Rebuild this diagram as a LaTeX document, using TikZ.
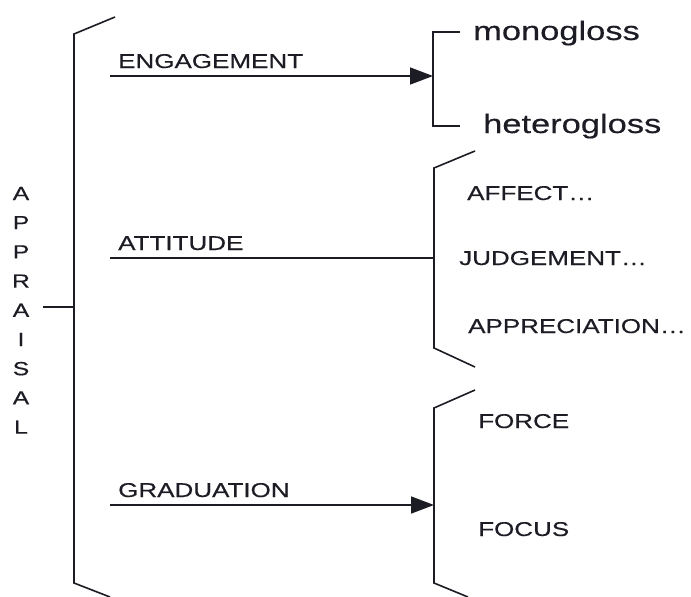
\documentclass[tikz,border=0pt]{standalone}
\usepackage{fontspec}
\setmainfont[FakeStretch=1.3,FakeBold=0.35]{Liberation Sans}
\usetikzlibrary{arrows.meta}
\definecolor{ink}{HTML}{1C1C24}
\begin{document}
\begin{tikzpicture}[x=1pt,y=-1pt,
  caps/.style={anchor=base west, inner sep=0pt, text=ink, font=\fontsize{20}{20}\selectfont},
  lower/.style={anchor=base west, inner sep=0pt, text=ink, font=\fontsize{26.5}{26.5}\selectfont},
  letter/.style={anchor=base, inner sep=0pt, text=ink, font=\fontsize{19}{19}\selectfont},
  brk/.style={draw=ink, line width=1.6pt, line join=miter},
  arr/.style={brk, -{Triangle[length=23pt,width=17pt]}}]
\useasboundingbox[fill=white] (0,0) rectangle (691,597);

% APPRAISAL column
\foreach \ch [count=\i from 0] in {A,P,P,R,A,I,S,A,L}
  \node[letter] (ap\i) at (21,{200+29.2*\i}) {\ch};

% left bracket
\coordinate (Lt) at (115,17);
\coordinate (Ltc) at (74,34);
\coordinate (Lbc) at (74,583);
\coordinate (Lb) at (110,597);
\coordinate (Lm) at (74,307);
\coordinate (tick) at (43,307);
\draw[brk] (Lt) -- (Ltc) -- (Lbc) -- (Lb);
\draw[brk] (tick) -- (Lm);

% ENGAGEMENT
\node[caps] (eng) at (118,68) {ENGAGEMENT};
\coordinate (engS) at (110,76);
\coordinate (engE) at (433,76);
\draw[arr] (engS) -- (engE);
\coordinate (eT) at (460,32);
\coordinate (eTc) at (433,32);
\coordinate (eBc) at (433,126);
\coordinate (eB) at (460,126);
\draw[brk] (eT) -- (eTc) -- (eBc) -- (eB);
\node[lower] (mono) at (473,40) {monogloss};
\node[lower] (hetero) at (483,133) {heterogloss};

% ATTITUDE
\node[caps] (att) at (118,250) {ATTITUDE};
\coordinate (attS) at (110,258);
\coordinate (attE) at (434,258);
\draw[brk] (attS) -- (attE);
\coordinate (aT) at (475,151);
\coordinate (aTc) at (434,168);
\coordinate (aBc) at (434,348);
\coordinate (aB) at (475,367);
\draw[brk] (aT) -- (aTc) -- (aBc) -- (aB);
\node[caps] (affect) at (467,200) {AFFECT\ldots};
\node[caps] (judge) at (459,265) {JUDGEMENT\ldots};
\node[caps] (apprec) at (468,333) {APPRECIATION\ldots};

% GRADUATION
\node[caps] (grad) at (118,497) {GRADUATION};
\coordinate (grS) at (110,505);
\coordinate (grE) at (434,505);
\draw[arr] (grS) -- (grE);
\coordinate (gT) at (475,390);
\coordinate (gTc) at (434,408);
\coordinate (gBc) at (434,583);
\coordinate (gB) at (468,597);
\draw[brk] (gT) -- (gTc) -- (gBc) -- (gB);
\node[caps] (force) at (478,428) {FORCE};
\node[caps] (focus) at (478,536) {FOCUS};
\end{tikzpicture}
\end{document}
